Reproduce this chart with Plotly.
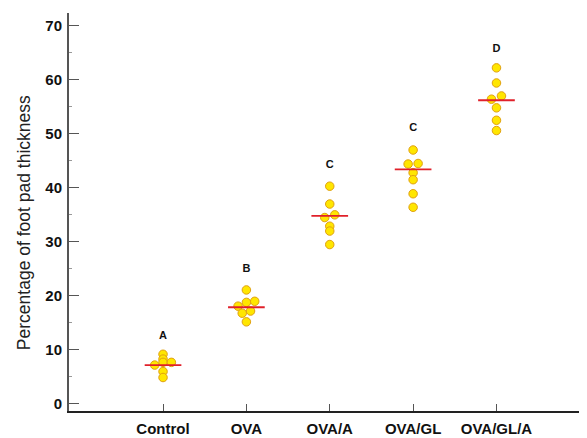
import plotly.graph_objects as go

groups = ["Control", "OVA", "OVA/A", "OVA/GL", "OVA/GL/A"]
control = [9.2, 8.3, 7.7, 7.2, 7.7, 6.0, 4.9]
ova = [21.1, 18.8, 19.0, 18.1, 16.8, 17.2, 15.2]
ova_a = [40.3, 37.0, 34.5, 35.0, 32.9, 32.0, 29.5]
ova_gl = [47.0, 44.4, 44.5, 42.8, 41.5, 38.9, 36.4]
ova_gl_a = [62.2, 59.4, 56.4, 57.0, 54.8, 52.5, 50.6]
group_lines = [7.2, 17.9, 34.8, 43.4, 56.2]
letters = ["A", "B", "C", "C", "D"]
letter_y = [12.6, 24.9, 44.2, 51.1, 65.7]
y_ticks = [0, 10, 20, 30, 40, 50, 60, 70]

# horizontal slot of each dot inside its group (-1 left, 0 centre, 1 right)
slots = {
    "Control": [0, 0, 0, -1, 1, 0, 0],
    "OVA": [0, 0, 1, -1, -0.5, 0.5, 0],
    "OVA/A": [0, 0, -0.6, 0.6, 0, 0, 0],
    "OVA/GL": [0, -0.6, 0.6, 0, 0, 0, 0],
    "OVA/GL/A": [0, 0, -0.6, 0.6, 0, 0, 0],
}
values = {"Control": control, "OVA": ova, "OVA/A": ova_a,
          "OVA/GL": ova_gl, "OVA/GL/A": ova_gl_a}

fig = go.Figure()
for i, g in enumerate(groups):
    fig.add_trace(go.Scatter(
        x=[i + 0.1 * s for s in slots[g]], y=values[g], mode="markers",
        marker=dict(size=8.5, color="#FFE600",
                    line=dict(color="#E0A010", width=1)),
        showlegend=False, hoverinfo="y"))
    fig.add_trace(go.Scatter(
        x=[i - 0.22, i + 0.22], y=[group_lines[i]] * 2, mode="lines",
        line=dict(color="#E0202A", width=1.8), showlegend=False))

fig.add_trace(go.Scatter(
    x=list(range(len(groups))), y=letter_y, mode="text",
    text=["<b>%s</b>" % t for t in letters],
    textfont=dict(family="Liberation Sans, Arial", size=11, color="#111"),
    showlegend=False))

font = dict(family="Liberation Sans, Arial", size=15, color="#111")
# page body has an 8px margin, so the figure is 8px smaller than the window
fig.update_layout(
    width=579, height=430,
    margin=dict(l=61, r=0, t=5, b=27),
    plot_bgcolor="white", paper_bgcolor="white",
    xaxis=dict(range=[-1.128, 5.086], tickvals=list(range(len(groups))),
               ticktext=["<b>%s</b>" % g for g in groups],
               showgrid=False, zeroline=False, showline=True,
               linecolor="#222", linewidth=2, automargin=False,
               ticks="inside", ticklen=7, tickcolor="#555", tickwidth=1,
               tickfont=font, ticklabelstandoff=3),
    yaxis=dict(range=[-1.3, 72.35], tickvals=y_ticks,
               ticktext=["<b>%d</b>" % v for v in y_ticks],
               showgrid=False, zeroline=False, showline=True,
               linecolor="#555", linewidth=2, automargin=False,
               ticks="inside", ticklen=10, tickcolor="#555", tickwidth=1,
               tickfont=font, ticklabelstandoff=2,
               minor=dict(tickvals=[5, 15, 25, 35, 45, 55, 65], ticks="inside",
                          ticklen=3, tickcolor="#999")),
    annotations=[dict(text="Percentage of foot pad thickness",
                      xref="paper", yref="paper", x=0, y=0.472,
                      xshift=-45, textangle=-90, showarrow=False,
                      xanchor="center", yanchor="middle",
                      font=dict(family="Liberation Sans, Arial", size=17.5,
                                color="#222"))],
)

fig.write_html("out.html")
